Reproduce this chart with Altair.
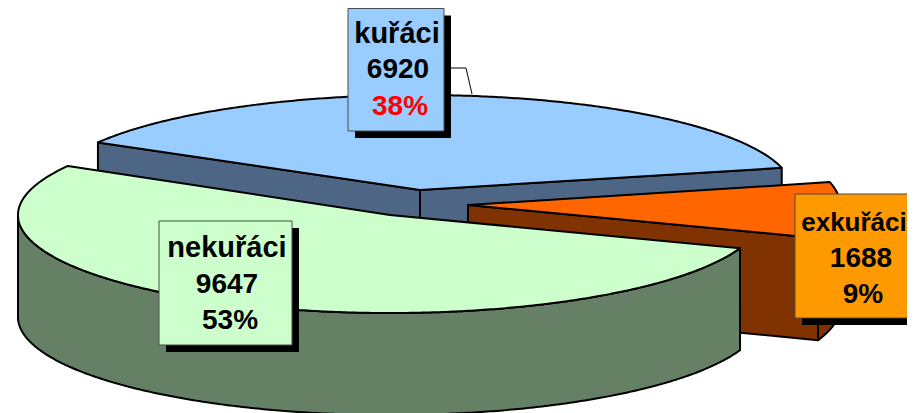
import math
import altair as alt

# Data
categories = ["kuřáci", "nekuřáci", "exkuřáci"]
counts = [6920, 9647, 1688]
percents = ["38%", "53%", "9%"]
percent_colors = ["#ff0000", "#000000", "#000000"]

# Pie geometry (style)
START = 13.5
RX, DEPTH = 372, 102
RYS = [95, 98, 98]
CENTERS = [(420, 190), (390, 215), (468, 205)]
TOP = ["#99ccff", "#ccffcc", "#ff6600"]
WALL = ["#4d6685", "#668066", "#803300"]
BOX_FILL = ["#99ccff", "#ccffcc", "#ff9900"]
BOX = [(348, 8.5, 444, 131), (159, 221, 292, 345), (795, 194, 925, 318)]
TEXT_X = [(397, 398, 400), (227, 227, 230), (854, 861, 863)]
TEXT_Y = [(43, 78, 115), (257, 293, 329), (231, 267, 303)]
TEXT_SIZE = [(29, 28, 28), (29, 28, 28), (26, 28, 28)]
SHADOW = 7

total = sum(counts)
spans = [c / total * 360 for c in counts]
angles = [START]
for s in spans:
    angles.append(angles[-1] + s)


def pt(i, a, dz=0):
    r = math.radians(a)
    center = CENTERS[i]
    return [center[0] + RX * math.cos(r), center[1] - RYS[i] * math.sin(r) + dz]


def arc(i, a0, a1, dz=0):
    n = max(2, int(abs(a1 - a0)) * 2)
    return [pt(i, a0 + (a1 - a0) * k / n, dz) for k in range(n + 1)]


def feature(points):
    ring = points + [points[0]]
    return {"type": "Feature", "properties": {},
            "geometry": {"type": "Polygon", "coordinates": [ring]}}


def poly(points, fill):
    return (
        alt.Chart(alt.Data(values=[feature(points)]))
        .mark_geoshape(fill=fill, stroke="#000000", strokeWidth=2, strokeJoin="round")
        .project(type="identity", reflectY=False, scale=1, translate=[-8, -8])
    )


layers = []

# kuřáci: two cut faces, then top
c = CENTERS[0]
a0, a1 = angles[0], angles[1]
layers.append(poly([list(c), pt(0, a0), pt(0, a0, DEPTH), [c[0], c[1] + DEPTH]], WALL[0]))
layers.append(poly([list(c), pt(0, a1), pt(0, a1, DEPTH), [c[0], c[1] + DEPTH]], WALL[0]))
layers.append(poly([list(c)] + arc(0, a0, a1), TOP[0]))

# exkuřáci: cut face, outer wall, top
c = CENTERS[2]
a0, a1 = angles[2], angles[3]
layers.append(poly([list(c), pt(2, a0), pt(2, a0, DEPTH), [c[0], c[1] + DEPTH]], WALL[2]))
layers.append(poly(arc(2, a0, 360) + arc(2, 360, a0, DEPTH), WALL[2]))
layers.append(poly([list(c)] + arc(2, a0, a1), TOP[2]))

# nekuřáci: outer wall, top
c = CENTERS[1]
a0, a1 = angles[1], angles[2]
layers.append(poly(arc(1, 180, a1) + arc(1, a1, 180, DEPTH), WALL[1]))
layers.append(poly([list(c)] + arc(1, a0, a1), TOP[1]))

X = alt.Scale(domain=[8, 907], range=[0, 899])
Y = alt.Scale(domain=[8, 413], range=[0, 405])


def xe(f):
    return alt.X(f, type="quantitative", scale=X, axis=None)


def ye(f):
    return alt.Y(f, type="quantitative", scale=Y, axis=None)


# leader line
leader = [{"x": 444, "y": 68, "o": 0}, {"x": 466, "y": 68, "o": 1}, {"x": 472, "y": 94, "o": 2}]
layers.append(
    alt.Chart(alt.Data(values=leader))
    .mark_line(color="#000000", strokeWidth=1)
    .encode(x=xe("x"), y=ye("y"), order="o:Q")
)

# label boxes and shadows
box_rows = [
    {"x": b[0], "y": b[1], "x2": b[2], "y2": b[3],
     "sx": b[0] + SHADOW, "sy": b[1] + SHADOW, "sx2": b[2] + SHADOW, "sy2": b[3] + SHADOW,
     "fill": f}
    for b, f in zip(BOX, BOX_FILL)
]
layers.append(
    alt.Chart(alt.Data(values=box_rows))
    .mark_rect(color="#000000")
    .encode(x=xe("sx"), x2="sx2:Q", y=ye("sy"), y2="sy2:Q")
)
layers.append(
    alt.Chart(alt.Data(values=box_rows))
    .mark_rect(stroke="#4a4a4a", strokeWidth=1)
    .encode(x=xe("x"), x2="x2:Q", y=ye("y"), y2="y2:Q",
            fill=alt.Fill("fill:N", scale=None))
)

# label text
rows = []
for i, name in enumerate(categories):
    lines = [name, str(counts[i]), percents[i]]
    cols = ["#000000", "#000000", percent_colors[i]]
    for j in range(3):
        rows.append({"t": lines[j], "x": TEXT_X[i][j], "y": TEXT_Y[i][j],
                     "c": cols[j], "s": TEXT_SIZE[i][j]})
layers.append(
    alt.Chart(alt.Data(values=rows))
    .mark_text(font="Liberation Sans", fontWeight="bold",
               align="center", baseline="alphabetic")
    .encode(x=xe("x"), y=ye("y"), text="t:N",
            color=alt.Color("c:N", scale=None),
            size=alt.Size("s:Q", scale=None))
)

chart = (
    alt.layer(*layers)
    .properties(width=899, height=405, padding=0, background="#ffffff",
                autosize=alt.AutoSizeParams(type="none"))
    .configure_view(stroke=None)
)

chart.save("out.html", embed_options={"renderer": "svg", "actions": False})
